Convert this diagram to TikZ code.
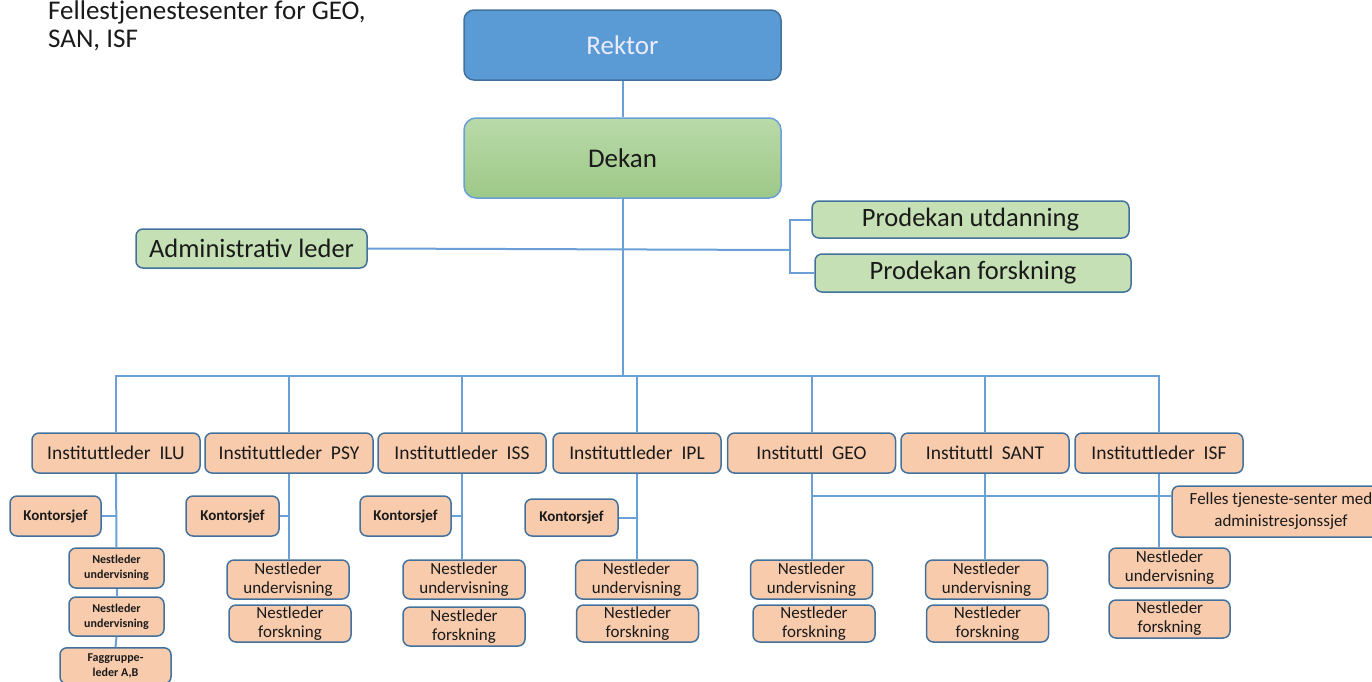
\documentclass[tikz,border=0pt]{standalone}
\usepackage{fontspec}
\setmainfont{Carlito}
\definecolor{bordc}{HTML}{41719C}
\definecolor{linec}{HTML}{6A9FD8}
\definecolor{orafill}{HTML}{F8CBAD}
\definecolor{grnfill}{HTML}{C5E0B4}
\definecolor{grntop}{HTML}{B9DAA9}
\definecolor{grnbot}{HTML}{9DC887}
\definecolor{bluefill}{HTML}{5B9BD5}
\definecolor{txt}{HTML}{1A1A1A}
\newcommand{\fsz}[1]{\fontsize{#1}{#1}\selectfont}
\tikzset{
  box/.style={draw=bordc, line width=1.5pt, rounded corners=7pt, inner sep=0pt, align=center, text=txt},
  ora/.style={box, fill=orafill},
  grn/.style={box, fill=grnfill},
  inst/.style={ora, minimum width=168pt, minimum height=40pt, font=\fsz{19.5}},
  kj/.style={ora, minimum width=92pt, minimum height=40pt, font=\fsz{15}\bfseries},
  nl/.style={ora, minimum width=122pt, minimum height=38pt, font=\fontsize{17}{19}\selectfont},
  nls/.style={ora, minimum width=95pt, minimum height=40pt, font=\fontsize{12}{15}\selectfont\bfseries},
  con/.style={draw=linec, line width=2pt},
}
\begin{document}
\begin{tikzpicture}[x=1pt,y=-1pt]
\useasboundingbox (0,0) rectangle (1372,681);
% top-left text
\node[anchor=base west, inner sep=0pt, font=\fsz{27}, text=txt] (t1) at (48,19) {Fellestjenestesenter for GEO,};
\node[anchor=base west, inner sep=0pt, font=\fsz{27}, text=txt] (t2) at (48,47) {SAN, ISF};
% top
\node[box, fill=bluefill, minimum width=317pt, minimum height=70pt, rounded corners=10pt, font=\fsz{27}, text=white!92!blue] (rek) at (622.5,45) {Rektor};
\node[box, draw=linec, top color=grntop, bottom color=grnbot, minimum width=317pt, minimum height=80pt, rounded corners=12pt, font=\fsz{27}] (dek) at (622.5,158) {Dekan};
\node[grn, minimum width=231pt, minimum height=39pt, font=\fsz{26.5}] (adm) at (251.5,248.5) {Administrativ leder};
\node[grn, minimum width=317pt, minimum height=37pt, font=\fsz{26.5}] (pu) at (970.5,219.5) {Prodekan utdanning};
\node[grn, minimum width=316pt, minimum height=38pt, font=\fsz{26.5}] (pf) at (973,273) {Prodekan forskning};
\coordinate (brk) at (790,250);
\coordinate (busc) at (622.5,376);
% institutes
\node[inst] (ilu) at (116,453) {Instituttleder~~ILU};
\node[inst] (psy) at (289,453) {Instituttleder~~PSY};
\node[inst] (iss) at (462,453) {Instituttleder~~ISS};
\node[inst] (ipl) at (637,453) {Instituttleder~~IPL};
\node[inst] (geo) at (811.5,453) {Instituttl~~GEO};
\node[inst] (sant) at (985,453) {Instituttl~~SANT};
\node[inst] (isf) at (1159,453) {Instituttleder~~ISF};
% kontorsjef
\node[kj, minimum width=91pt] (ilukj) at (55.5,516) {Kontorsjef};
\node[kj, minimum width=93pt] (psykj) at (232.5,516) {Kontorsjef};
\node[kj, minimum width=91pt] (isskj) at (405.5,516) {Kontorsjef};
\node[kj, minimum width=93pt, minimum height=37pt] (iplkj) at (571.5,517.5) {Kontorsjef};
% ILU column
\node[nls] (ilunu1) at (116.5,568) {Nestleder\\undervisning};
\node[nls, minimum height=39pt] (ilunu2) at (116.5,616.5) {Nestleder\\undervisning};
\node[nls, minimum width=111pt, minimum height=36pt, anchor=north] (ilufag) at (115.5,647) {Faggruppe-\\leder A,B};
% nestledere
\node[nl, minimum height=39pt] (psynu) at (288,579.5) {Nestleder\\undervisning};
\node[nl, minimum height=37pt] (psynf) at (290,623.5) {Nestleder\\forskning};
\node[nl, minimum height=39pt] (issnu) at (464,579.5) {Nestleder\\undervisning};
\node[nl, minimum height=39pt] (issnf) at (464,626.5) {Nestleder\\forskning};
\node[nl, minimum height=39pt] (iplnu) at (636.5,579.5) {Nestleder\\undervisning};
\node[nl, minimum height=37pt] (iplnf) at (637.5,623.5) {Nestleder\\forskning};
\node[nl, minimum height=39pt] (geonu) at (811.5,579.5) {Nestleder\\undervisning};
\node[nl, minimum height=37pt] (geonf) at (814,623.5) {Nestleder\\forskning};
\node[nl, minimum height=39pt] (santnu) at (986.5,579.5) {Nestleder\\undervisning};
\node[nl, minimum height=37pt] (santnf) at (987.5,623.5) {Nestleder\\forskning};
\node[nl, minimum width=121pt, minimum height=40pt] (isfnu) at (1169.5,568) {Nestleder\\undervisning};
\node[nl, minimum width=121pt, minimum height=38pt] (isfnf) at (1169.5,619) {Nestleder\\forskning};
\node[ora, minimum width=218pt, minimum height=51pt, font=\fontsize{17}{22}\selectfont] (felles) at (1281,511.5) {Felles tjeneste-senter med\\administresjonssjef};
\coordinate (fj) at (1172,496);
% connectors
\draw[con] (rek.south) -- (dek.north);
\draw[con] (dek.south) -- (busc);
\draw[con] (adm.east) -- (brk);
\draw[con] (brk) |- (pu.west);
\draw[con] (brk) |- (pf.west);
\foreach \n in {ilu,psy,iss,ipl,geo,sant,isf} {\draw[con] (busc) -| (\n.north);}
\draw[con] (ilu.south) -- (ilunu1.north);
\draw[con] (ilunu1.south) -- (ilunu2.north);
\draw[con] (ilunu2.south) -- (ilufag.north);
\draw[con] (ilukj.east) -- (ilukj.east -| ilu.south);
\draw[con] (psy.south) -- (psy.south |- psynu.north);
\draw[con] (psykj.east) -- (psykj.east -| psy.south);
\draw[con] (iss.south) -- (iss.south |- issnu.north);
\draw[con] (isskj.east) -- (isskj.east -| iss.south);
\draw[con] (ipl.south) -- (ipl.south |- iplnu.north);
\draw[con] (iplkj.east) -- (iplkj.east -| ipl.south);
\draw[con] (geo.south) -- (geo.south |- geonu.north);
\draw[con] (sant.south) -- (sant.south |- santnu.north);
\draw[con] (isf.south) -- (isf.south |- isfnu.north);
\draw[con] (geo.south |- fj) -- (fj);
\end{tikzpicture}
\end{document}
